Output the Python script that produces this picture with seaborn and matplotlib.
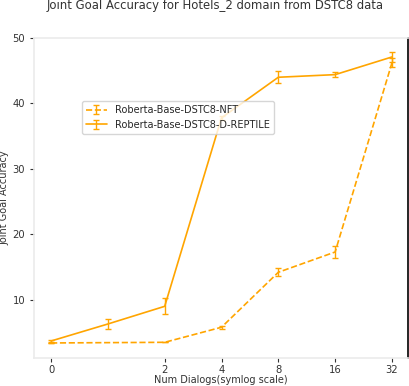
import numpy as np
import matplotlib
matplotlib.use("Agg")
import matplotlib.pyplot as plt
import seaborn as sns

sns.set_style("white")
plt.rcParams['font.family'] = ['DejaVu Sans']

# data
x_nft = [0, 2, 4, 8, 16, 32]
y_nft = [3.4, 3.5, 5.8, 14.2, 17.3, 46.2]
e_nft = [0.0, 0.0, 0.2, 0.6, 0.9, 0.7]

x_rep = [0, 1, 2, 4, 8, 16, 32]
y_rep = [3.7, 6.3, 9.0, 37.8, 44.0, 44.4, 47.1]
e_rep = [0.1, 0.8, 1.2, 0.3, 0.9, 0.4, 0.7]

labels = ["Roberta-Base-DSTC8-NFT", "Roberta-Base-DSTC8-D-REPTILE"]
xticks = [0, 2, 4, 8, 16, 32]
yticks = [10, 20, 30, 40, 50]

fig = plt.figure(figsize=(4.10, 3.86), dpi=100)
ax = fig.add_axes([0.083, 0.0725, 0.912, 0.8291])

ax.errorbar(x_nft, y_nft, yerr=e_nft, color="orange", linestyle="--", linewidth=1.2,
            capsize=2.5, elinewidth=1, label=labels[0])
ax.errorbar(x_rep, y_rep, yerr=e_rep, color="orange", linestyle="-", linewidth=1.2,
            capsize=2.5, elinewidth=1, label=labels[1])

ax.set_xscale("symlog", base=2, linthresh=2, linscale=1)
ax.set_xlim(-0.3, 38.9)
ax.set_ylim(1.1, 50)
ax.set_xticks(xticks)
ax.set_xticklabels([str(t) for t in xticks])
ax.set_yticks(yticks)
ax.minorticks_off()
ax.tick_params(axis="both", which="major", length=3, width=0.8, color="#333333",
               labelsize=7.2, labelcolor="#333333", direction="out", bottom=True, left=True)
ax.tick_params(axis="x", pad=2)

for side in ["left", "bottom", "top"]:
    ax.spines[side].set_color("#ebebeb")
    ax.spines[side].set_linewidth(1.2)
ax.spines["right"].set_color("black")
ax.spines["right"].set_linewidth(1.2)

ax.set_xlabel("Num Dialogs(symlog scale)", fontsize=7, labelpad=0, color="#333333")
ax.set_ylabel("Joint Goal Accuracy", fontsize=7, labelpad=2, color="#333333")
fig.suptitle("Joint Goal Accuracy for Hotels_2 domain from DSTC8 data", fontsize=8.4,
             y=1.003, x=0.525, color="#333333")

ax.legend(loc="upper left", bbox_to_anchor=(0.128, 0.803), borderaxespad=0,
          fontsize=7, frameon=True, handlelength=2.2)

fig.savefig("out.png", dpi=100)
